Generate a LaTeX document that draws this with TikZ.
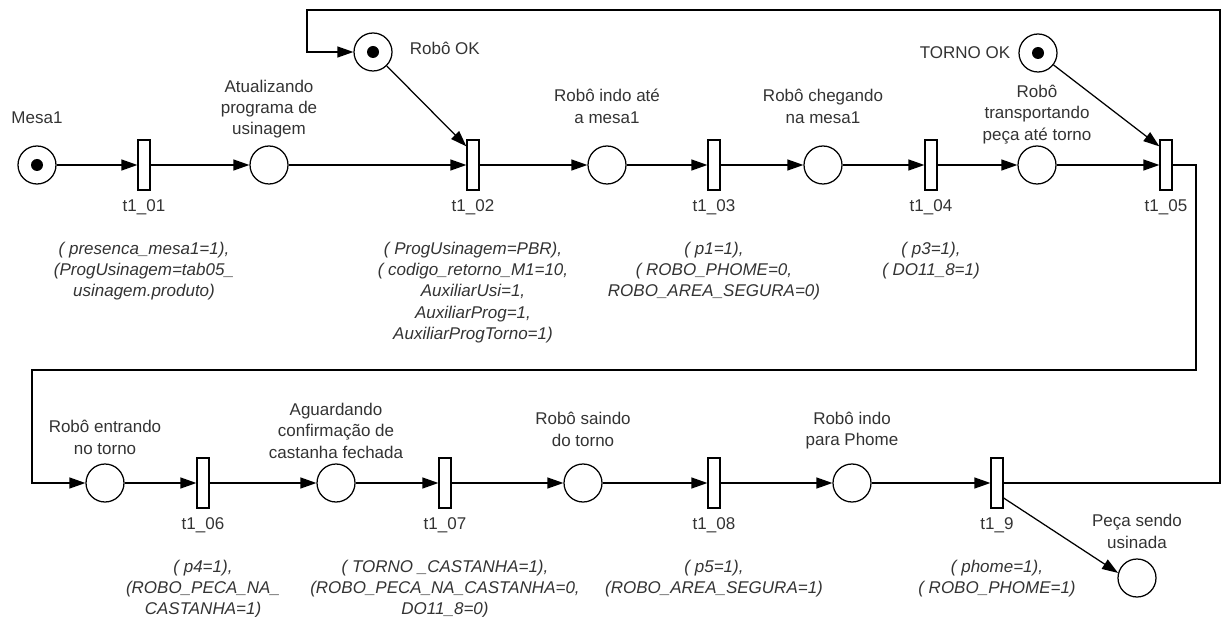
\documentclass[tikz,border=0pt]{standalone}
\usepackage{fontspec}
\setmainfont{Liberation Sans}
\usetikzlibrary{arrows.meta}
\usetikzlibrary{positioning}

\begin{document}
\begin{tikzpicture}[x=1pt, y=-1pt,
        every node/.style={inner sep=0pt, text=black!80, font=\fontsize{17}{21.3}\selectfont},
        placenode/.style={draw=black, circle, line width=1.25pt, minimum size=38pt},
        transbox/.style={draw=black, rectangle, line width=1.25pt, minimum width=12pt, minimum height=50pt},
        tok/.style={circle, fill=black, minimum size=12pt},
        cond/.style={align=center, font=\fontsize{17}{21.3}\selectfont\itshape},
        flow/.style={-{Triangle[length=16pt, width=11pt]}, line width=1.25pt}]
        \useasboundingbox (0,0) rectangle (1222,617);

        % Places of the upper row
        \node [placenode] (mesa) at (37,165) {};
        \node [tok] (mesa_tok) at (mesa) {};
        \node [above=22pt of mesa] (mesa_lbl) {Mesa1};

        \node [placenode] (atualizando) at (269,165) {};
        \node [align=center, above=7pt of atualizando] (atualizando_lbl) {Atualizando\\programa de\\usinagem};

        \node [placenode] (indo_mesa) at (607,165) {};
        \node [align=center, above=22pt of indo_mesa] (indo_mesa_lbl) {Robô indo até\\a mesa1};

        \node [placenode] (chegando) at (823,165) {};
        \node [align=center, above=22pt of chegando] (chegando_lbl) {Robô chegando\\na mesa1};

        \node [placenode] (transportando) at (1037,165) {};
        \node [align=center, above=1.5pt of transportando] (transportando_lbl) {Robô\\transportando\\peça até torno};

        % Resource places (marked)
        \node [placenode] (robo_ok) at (373,52) {};
        \node [tok] (robo_ok_tok) at (robo_ok) {};
        \node [right=17pt of robo_ok, yshift=4pt] (robo_ok_lbl) {Robô OK};

        \node [placenode] (torno_ok) at (1038,53) {};
        \node [tok] (torno_ok_tok) at (torno_ok) {};
        \node [left=8pt of torno_ok] (torno_ok_lbl) {TORNO OK};

        % Places of the lower row
        \node [placenode] (entrando) at (105,483) {};
        \node [align=center, above=9pt of entrando] (entrando_lbl) {Robô entrando\\no torno};

        \node [placenode] (aguardando) at (336,483) {};
        \node [align=center, above=5pt of aguardando] (aguardando_lbl) {Aguardando\\confirmação de\\castanha fechada};

        \node [placenode] (saindo) at (583,483) {};
        \node [align=center, above=17pt of saindo] (saindo_lbl) {Robô saindo\\do torno};

        \node [placenode] (phome) at (852,483) {};
        \node [align=center, above=14pt of phome] (phome_lbl) {Robô indo\\para Phome};

        \node [placenode] (peca) at (1137,578) {};
        \node [align=center, above=10pt of peca] (peca_lbl) {Peça sendo\\usinada};

        % Transitions and their names
        \foreach \i/\x/\y in {01/144/165, 02/473/165, 03/714/165, 04/931/165, 05/1166/165,
                              06/203/483, 07/445/483, 08/714/483, 9/997/483} {
            \node [transbox] (t\i) at (\x,\y) {};
            \node [below=9pt of t\i] (t\i_lbl) {t1\_\i};
        }

        % Firing conditions and actions
        \node [cond, below=51pt of t01] (c01) {( presenca\_mesa1=1),\\(ProgUsinagem=tab05\_\\usinagem.produto)};
        \node [cond, below=51pt of t02] (c02) {( ProgUsinagem=PBR),\\( codigo\_retorno\_M1=10,\\AuxiliarUsi=1,\\AuxiliarProg=1,\\AuxiliarProgTorno=1)};
        \node [cond, below=51pt of t03] (c03) {( p1=1),\\( ROBO\_PHOME=0,\\ROBO\_AREA\_SEGURA=0)};
        \node [cond, below=51pt of t04] (c04) {( p3=1),\\( DO11\_8=1)};
        \node [cond, below=51pt of t06] (c06) {( p4=1),\\(ROBO\_PECA\_NA\_\\CASTANHA=1)};
        \node [cond, below=51pt of t07] (c07) {( TORNO \_CASTANHA=1),\\(ROBO\_PECA\_NA\_CASTANHA=0,\\DO11\_8=0)};
        \node [cond, below=51pt of t08] (c08) {( p5=1),\\(ROBO\_AREA\_SEGURA=1)};
        \node [cond, below=51pt of t9] (c9) {( phome=1),\\( ROBO\_PHOME=1)};

        % Arcs of the upper row
        \draw [flow] (mesa) -- (t01);
        \draw [flow] (t01) -- (atualizando);
        \draw [flow] (atualizando) -- (t02);
        \draw [flow] (t02) -- (indo_mesa);
        \draw [flow] (indo_mesa) -- (t03);
        \draw [flow] (t03) -- (chegando);
        \draw [flow] (chegando) -- (t04);
        \draw [flow] (t04) -- (transportando);
        \draw [flow] (transportando) -- (t05);
        \draw [flow] (robo_ok) -- ([yshift=-7pt]t02.north west);
        \draw [flow] (torno_ok) -- ([yshift=-7pt]t05.north west);

        % Link from t1_05 down to the lower row
        \draw [flow] (t05) -- ++(30,0) |- (32,370) |- (entrando);

        % Arcs of the lower row
        \draw [flow] (entrando) -- (t06);
        \draw [flow] (t06) -- (aguardando);
        \draw [flow] (aguardando) -- (t07);
        \draw [flow] (t07) -- (saindo);
        \draw [flow] (saindo) -- (t08);
        \draw [flow] (t08) -- (phome);
        \draw [flow] (phome) -- (t9);
        \draw [flow] ([yshift=-15pt]t9.east) -- (peca.165);

        % Robot returned to Robô OK
        \draw [flow] (t9) -- ++(223,0) |- (307,10) |- (robo_ok);
\end{tikzpicture}
\end{document}
